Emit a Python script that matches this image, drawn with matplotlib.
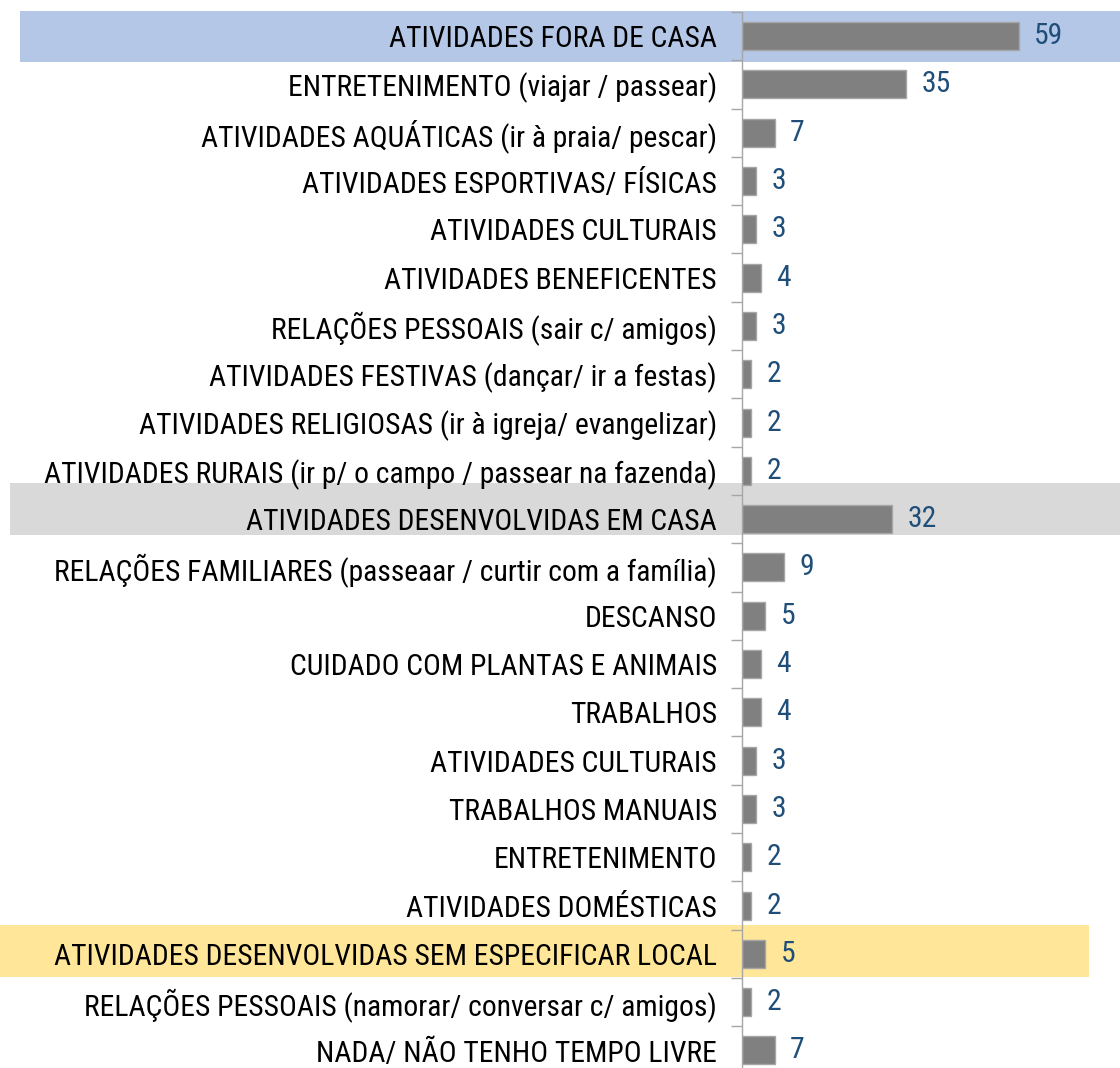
import matplotlib
matplotlib.use('Agg')
import matplotlib.pyplot as plt
from matplotlib import font_manager
from matplotlib.patches import Rectangle
from matplotlib.transforms import blended_transform_factory

# categories, top to bottom
labels = [
    'ATIVIDADES FORA DE CASA',
    'ENTRETENIMENTO (viajar / passear)',
    'ATIVIDADES AQUÁTICAS (ir à praia/ pescar)',
    'ATIVIDADES ESPORTIVAS/ FÍSICAS',
    'ATIVIDADES CULTURAIS',
    'ATIVIDADES BENEFICENTES',
    'RELAÇÕES PESSOAIS (sair c/ amigos)',
    'ATIVIDADES FESTIVAS (dançar/ ir a festas)',
    'ATIVIDADES RELIGIOSAS (ir à igreja/ evangelizar)',
    'ATIVIDADES RURAIS (ir p/ o campo / passear na fazenda)',
    'ATIVIDADES DESENVOLVIDAS EM CASA',
    'RELAÇÕES FAMILIARES (passeaar / curtir com a família)',
    'DESCANSO',
    'CUIDADO COM PLANTAS E ANIMAIS',
    'TRABALHOS',
    'ATIVIDADES CULTURAIS',
    'TRABALHOS MANUAIS',
    'ENTRETENIMENTO',
    'ATIVIDADES DOMÉSTICAS',
    'ATIVIDADES DESENVOLVIDAS SEM ESPECIFICAR LOCAL',
    'RELAÇÕES PESSOAIS (namorar/ conversar c/ amigos)',
    'NADA/ NÃO TENHO TEMPO LIVRE',
]
values = [59, 35, 7, 3, 3, 4, 3, 2, 2, 2, 32, 9, 5, 4, 4, 3, 3, 2, 2, 5, 2, 7]

# group header rows and their band colours
header_rows = [0, 10, 19]
header_colors = ['#b4c7e7', '#d9d9d9', '#ffe699']

names = set(f.name for f in font_manager.fontManager.ttflist)
if 'Roboto Condensed' in names:
    fs = 21.3
else:
    fs = 16.5
plt.rcParams['font.family'] = ['Roboto Condensed', 'Liberation Sans', 'DejaVu Sans']

W, H = 1120, 1068
fig = plt.figure(figsize=(W / 100, H / 100), dpi=100)
# axes: left spine at x=742px, top at 12px, row pitch ~48.3px
pitch = 48.3
top = 12
ax_h = pitch * len(labels)
ax = fig.add_axes([742 / W, 1 - (top + ax_h) / H, (W - 742) / W, ax_h / H])
ax.patch.set_alpha(0)

px_per_unit = 4.69
ax.set_xlim(0, (W - 742) / px_per_unit)
ax.set_ylim(len(labels) - 0.5, -0.5)

ypos = list(range(len(labels)))
ax.barh(ypos, values, height=0.58, color='#808080', edgecolor='#a6a6a6',
        linewidth=1, zorder=2)

for y, v in zip(ypos, values):
    ax.annotate(str(v), (v, y), xytext=(11, 0), textcoords='offset points',
                va='center', ha='left', fontsize=fs, color='#1f4e79',
                clip_on=False, zorder=3)

# highlight bands (x in figure px, y in rows)
band_x = {0: (20, 1120), 10: (10, 1120), 19: (0, 1089)}
band_y = {0: (-0.52, 0.54), 10: (-0.74, 0.32), 19: (-0.6, 0.48)}
tr = blended_transform_factory(fig.transFigure, ax.transData)
for r, c in zip(header_rows, header_colors):
    x0, x1 = band_x[r]
    d0, d1 = band_y[r]
    ax.add_patch(Rectangle((x0 / W, r + d0), (x1 - x0) / W, d1 - d0,
                           transform=tr, facecolor=c, edgecolor='none',
                           clip_on=False, zorder=0.5))

ax.set_yticks(ypos)
ax.set_yticklabels(labels, fontsize=fs, color='black')
ax.set_yticks([i - 0.5 for i in range(len(labels) + 1)], minor=True)
ax.tick_params(axis='y', which='major', length=0, pad=18)
ax.tick_params(axis='y', which='minor', length=8, color='#a6a6a6', width=1)
ax.set_xticks([])

for s in ['top', 'right', 'bottom']:
    ax.spines[s].set_visible(False)
ax.spines['left'].set_color('#a6a6a6')
ax.spines['left'].set_linewidth(1)

fig.savefig('out.png', dpi=100)
